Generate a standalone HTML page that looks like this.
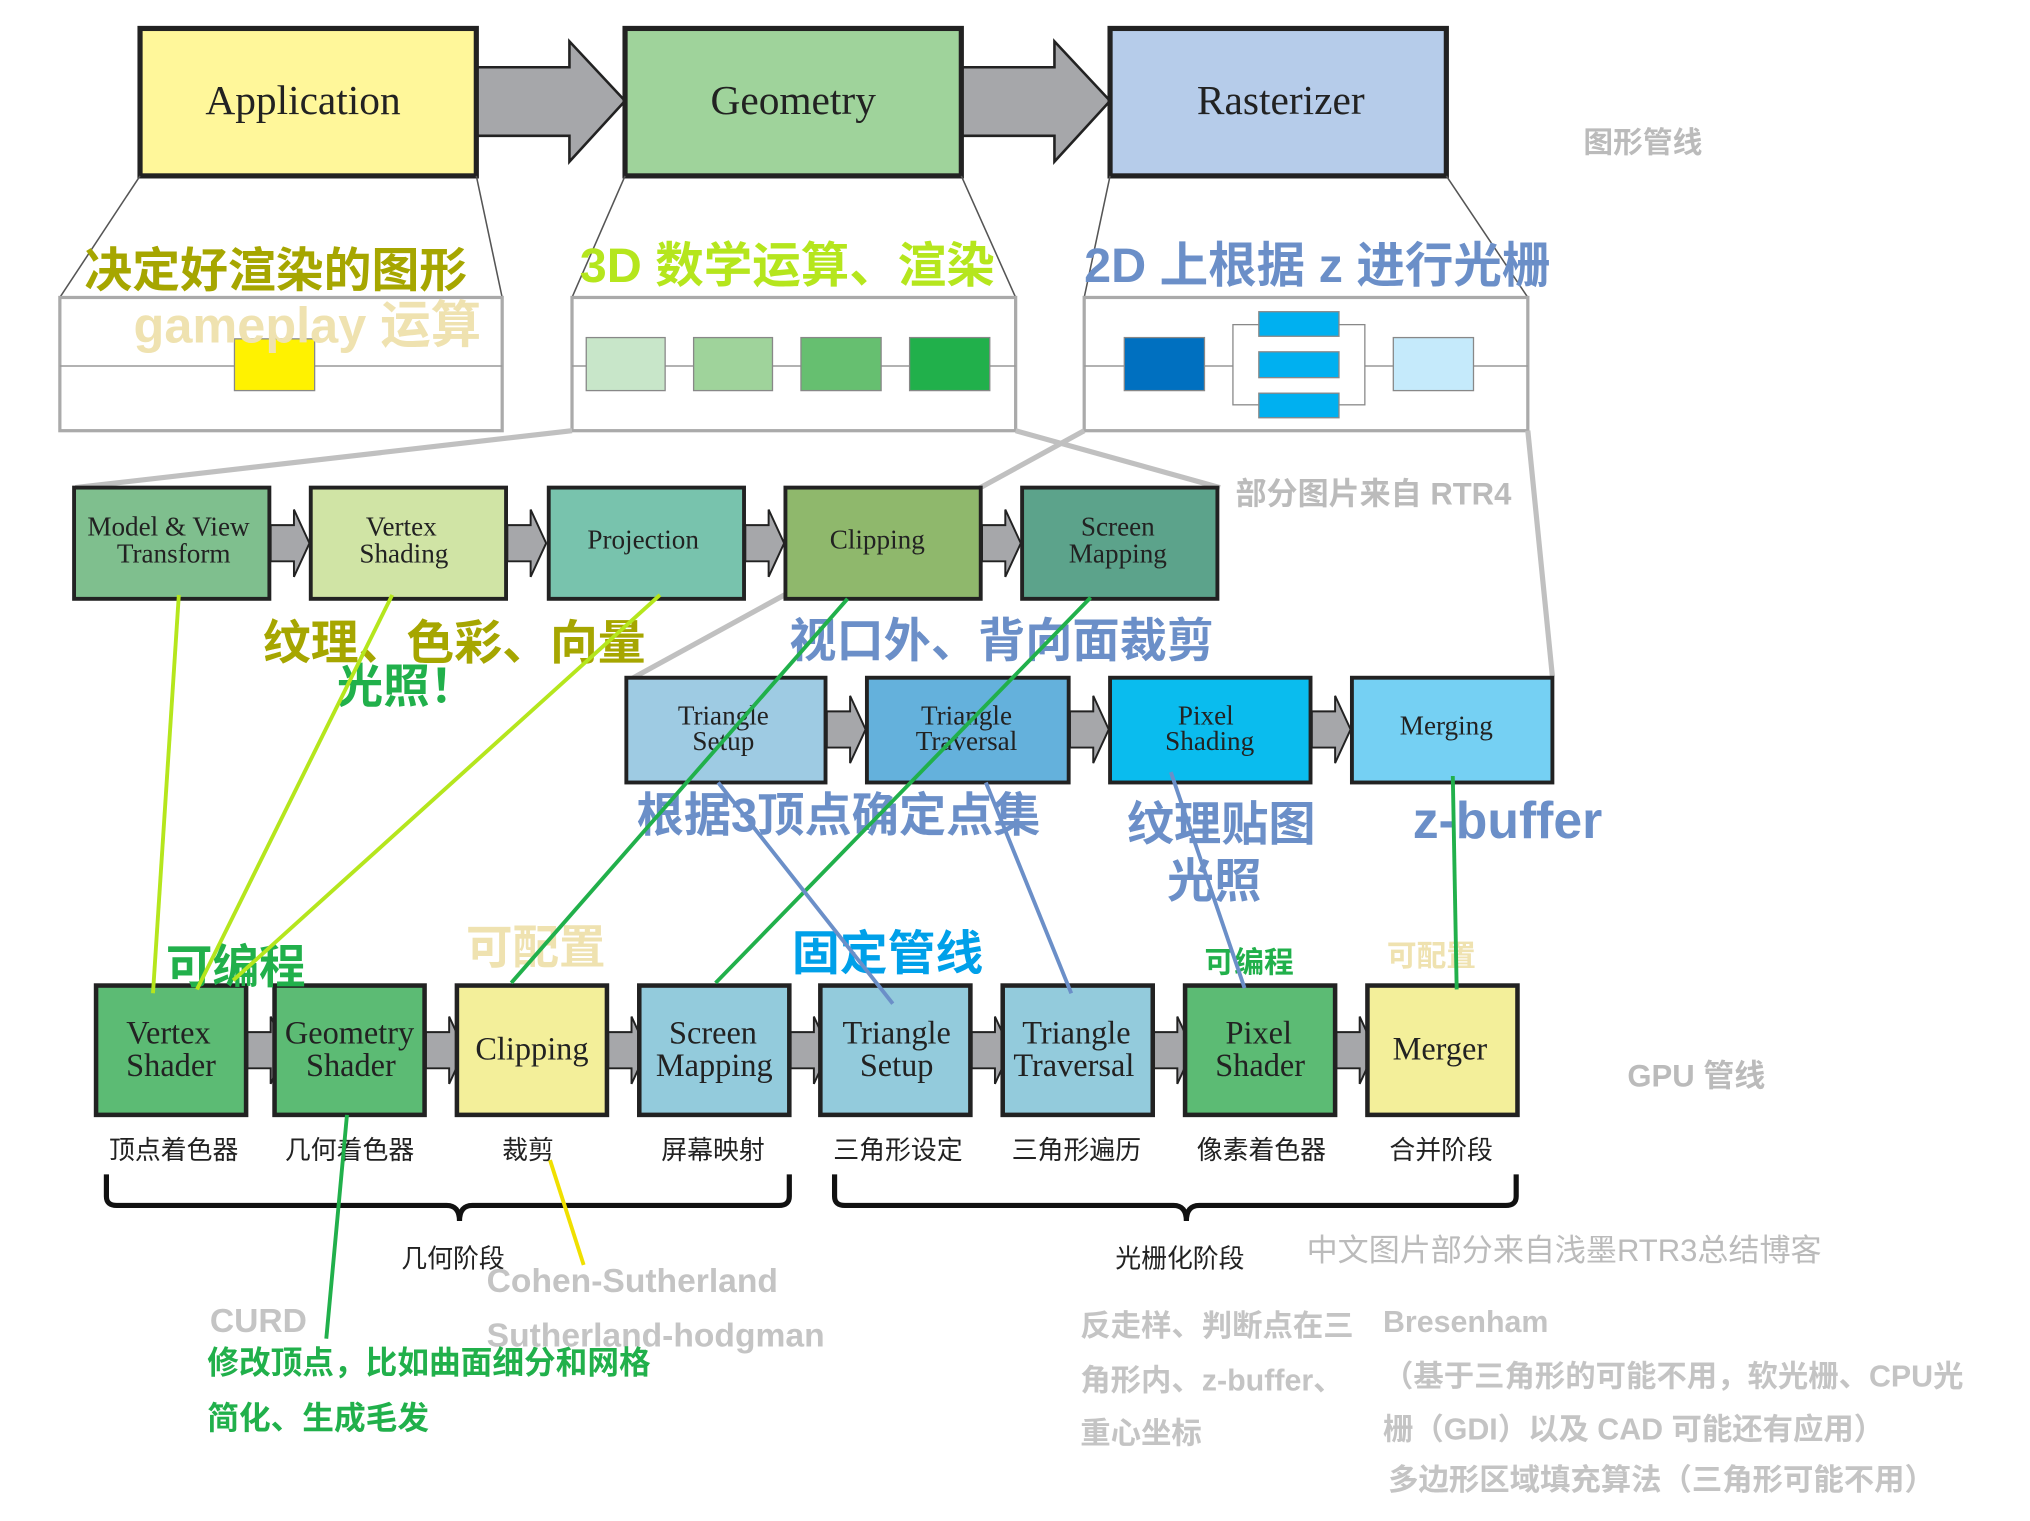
<!DOCTYPE html>
<html><head><meta charset="utf-8"><style>
html,body{margin:0;padding:0;background:#fff;width:2030px;height:1521px;overflow:hidden}
svg{display:block}
.s{font-family:"Liberation Serif","Noto Serif CJK SC",serif;fill:#222}
.c{font-family:"Liberation Sans","Noto Sans CJK SC",sans-serif;font-weight:bold}
.n{font-family:"Liberation Sans","Noto Sans CJK SC",sans-serif}
</style></head><body>
<svg width="2030" height="1521" viewBox="0 0 1569 1176" xmlns="http://www.w3.org/2000/svg">
<defs>
<g id="ba"><polygon points="0,-14 18,-14 18,-26 30,0 18,26 18,14 0,14" fill="#a6a7aa" stroke="#222" stroke-width="1.5"/></g>
</defs>
<polygon points="368,52 440,52 440,32 483,78 440,125 440,105 368,105" fill="#a6a7aa" stroke="#222" stroke-width="2"/>
<polygon points="743,52 815,52 815,32 858,78 815,125 815,105 743,105" fill="#a6a7aa" stroke="#222" stroke-width="2"/>
<rect x="108" y="22" width="260" height="114" fill="#fff79a" stroke="#222" stroke-width="4"/>
<rect x="483" y="22" width="260" height="114" fill="#9fd39b" stroke="#222" stroke-width="4"/>
<rect x="858" y="22" width="260" height="114" fill="#b6ccea" stroke="#222" stroke-width="4"/>
<text x="234" y="88" class="s" font-size="32" text-anchor="middle">Application</text>
<text x="613" y="88" class="s" font-size="32" text-anchor="middle">Geometry</text>
<text x="990" y="88" class="s" font-size="32" text-anchor="middle">Rasterizer</text>
<text x="1224" y="118" class="c" font-size="23" fill="#bbb">图形管线</text>
<g stroke="#555" stroke-width="1.2" fill="none">
<line x1="108" y1="136" x2="46" y2="230"/><line x1="368" y1="136" x2="388" y2="230"/>
<line x1="483" y1="136" x2="442" y2="230"/><line x1="743" y1="136" x2="785" y2="230"/>
<line x1="858" y1="136" x2="838" y2="230"/><line x1="1118" y1="136" x2="1181" y2="230"/>
</g>
<g stroke="#aaa" stroke-width="2.5" fill="#fff">
<rect x="46" y="230" width="342" height="103"/><rect x="442" y="230" width="343" height="103"/><rect x="838" y="230" width="343" height="103"/>
</g>
<g stroke="#999" stroke-width="1.2"><line x1="46" y1="283" x2="388" y2="283"/><line x1="442" y1="283" x2="785" y2="283"/><line x1="838" y1="283" x2="1181" y2="283"/></g>
<rect x="181" y="262" width="62" height="40" fill="#fff200" stroke="#888"/>
<rect x="453" y="261" width="61" height="41" fill="#c8e6c9" stroke="#888"/>
<rect x="536" y="261" width="61" height="41" fill="#9fd39b" stroke="#888"/>
<rect x="619" y="261" width="62" height="41" fill="#66bf70" stroke="#888"/>
<rect x="703" y="261" width="62" height="41" fill="#21b04b" stroke="#888"/>
<rect x="953" y="251" width="102" height="62" fill="#fff" stroke="#888"/>
<rect x="869" y="261" width="62" height="41" fill="#0070c0" stroke="#888"/>
<rect x="973" y="241" width="62" height="19" fill="#00b0f0" stroke="#888"/>
<rect x="973" y="272" width="62" height="20" fill="#00b0f0" stroke="#888"/>
<rect x="973" y="304" width="62" height="19" fill="#00b0f0" stroke="#888"/>
<rect x="1077" y="261" width="62" height="41" fill="#c5eafb" stroke="#888"/>
<text x="65" y="222" class="c" font-size="37" fill="#a6a600">决定好渲染的图形</text>
<text x="103" y="265" class="c" font-size="39" fill="#efe2b0">gameplay 运算</text>
<text x="448" y="218" class="c" font-size="37.5" fill="#b5e61d">3D 数学运算、渲染</text>
<text x="838" y="218" class="c" font-size="37.5" fill="#6b8fc8">2D 上根据 z 进行光栅</text>
<g stroke="#c0c0c0" stroke-width="4"><line x1="442" y1="333" x2="58" y2="377"/><line x1="785" y1="333" x2="943" y2="377"/><line x1="838" y1="333" x2="484" y2="527"/><line x1="1181" y1="333" x2="1200" y2="523"/></g>
<text x="955" y="390" class="c" font-size="24" fill="#bbb">部分图片来自 RTR4</text>
<use href="#ba" x="209" y="420"/><use href="#ba" x="392" y="420"/><use href="#ba" x="576" y="420"/><use href="#ba" x="759" y="420"/>
<g stroke="#222" stroke-width="3">
<rect x="57" y="377" width="151" height="86" fill="#7fbf8e"/>
<rect x="240" y="377" width="151" height="86" fill="#d0e4a5"/>
<rect x="424" y="377" width="151" height="86" fill="#78c3ad"/>
<rect x="607" y="377" width="151" height="86" fill="#8fb86c"/>
<rect x="790" y="377" width="151" height="86" fill="#5ca38b"/>
</g>
<g class="s" font-size="21" text-anchor="middle">
<text x="130" y="414">Model &amp; View</text><text x="134" y="435">Transform</text>
<text x="310" y="414">Vertex</text><text x="312" y="435">Shading</text>
<text x="497" y="424">Projection</text>
<text x="678" y="424">Clipping</text>
<text x="864" y="414">Screen</text><text x="864" y="435">Mapping</text>
</g>
<use href="#ba" x="639" y="564"/><use href="#ba" x="827" y="564"/><use href="#ba" x="1014" y="564"/>
<g stroke="#222" stroke-width="3">
<rect x="484" y="524" width="154" height="81" fill="#9ecbe3"/>
<rect x="670" y="524" width="156" height="81" fill="#64b1dc"/>
<rect x="858" y="524" width="155" height="81" fill="#0abcee"/>
<rect x="1045" y="524" width="155" height="81" fill="#75d0f3"/>
</g>
<g class="s" font-size="21" text-anchor="middle">
<text x="559" y="560">Triangle</text><text x="559" y="580">Setup</text>
<text x="747" y="560">Triangle</text><text x="747" y="580">Traversal</text>
<text x="932" y="560">Pixel</text><text x="935" y="580">Shading</text>
<text x="1118" y="568">Merging</text>
</g>
<text x="203" y="510" class="c" font-size="37" fill="#a6a600">纹理、色彩、向量</text>
<text x="260" y="543" class="c" font-size="36" fill="#21b04b">光照！</text>
<text x="610" y="508" class="c" font-size="36.5" fill="#6b8fc8">视口外、背向面裁剪</text>
<text x="492" y="643" class="c" font-size="36.5" fill="#6b8fc8">根据3顶点确定点集</text>
<text x="871" y="650" class="c" font-size="36.5" fill="#6b8fc8">纹理贴图</text>
<text x="902" y="694" class="c" font-size="36.5" fill="#6b8fc8">光照</text>
<text x="1092" y="648" class="c" font-size="40" fill="#6b8fc8">z-buffer</text>
<use href="#ba" x="191" y="812"/><use href="#ba" x="329" y="812"/><use href="#ba" x="470" y="812"/><use href="#ba" x="611" y="812"/><use href="#ba" x="751" y="812"/><use href="#ba" x="892" y="812"/><use href="#ba" x="1033" y="812"/>
<g stroke="#222" stroke-width="3.5">
<rect x="74" y="762" width="116" height="100" fill="#5cbb74"/>
<rect x="212" y="762" width="116" height="100" fill="#5cbb74"/>
<rect x="353" y="762" width="116" height="100" fill="#f3ef9a"/>
<rect x="494" y="762" width="116" height="100" fill="#93cbdc"/>
<rect x="634" y="762" width="116" height="100" fill="#93cbdc"/>
<rect x="775" y="762" width="116" height="100" fill="#93cbdc"/>
<rect x="916" y="762" width="116" height="100" fill="#5cbb74"/>
<rect x="1057" y="762" width="116" height="100" fill="#f3ef9a"/>
</g>
<g class="s" font-size="25" text-anchor="middle">
<text x="130" y="807">Vertex</text><text x="132" y="832">Shader</text>
<text x="270" y="807">Geometry</text><text x="271" y="832">Shader</text>
<text x="411" y="819">Clipping</text>
<text x="551" y="807">Screen</text><text x="552" y="832">Mapping</text>
<text x="693" y="807">Triangle</text><text x="693" y="832">Setup</text>
<text x="832" y="807">Triangle</text><text x="830" y="832">Traversal</text>
<text x="973" y="807">Pixel</text><text x="974" y="832">Shader</text>
<text x="1113" y="819">Merger</text>
</g>
<g class="n" font-size="20" text-anchor="middle" fill="#222">
<text x="134" y="896">顶点着色器</text><text x="270" y="896">几何着色器</text><text x="408" y="896">裁剪</text><text x="551" y="896">屏幕映射</text><text x="694" y="896">三角形设定</text><text x="832" y="896">三角形遍历</text><text x="975" y="896">像素着色器</text><text x="1114" y="896">合并阶段</text>
</g>
<g fill="none" stroke="#111" stroke-width="4">
<path d="M82,908 V925 Q82,932 90,932 H345 Q355,932 355,944 Q355,932 365,932 H602 Q610,932 610,925 V908"/>
<path d="M645,908 V925 Q645,932 653,932 H907 Q917,932 917,944 Q917,932 927,932 H1164 Q1172,932 1172,925 V908"/>
</g>
<text x="310" y="980" class="n" font-size="20" fill="#222">几何阶段</text>
<text x="862" y="980" class="n" font-size="20" fill="#222">光栅化阶段</text>
<text x="1010" y="975" class="n" font-size="24" fill="#bbb">中文图片部分来自浅墨RTR3总结博客</text>
<text x="128" y="760" class="c" font-size="36" fill="#21b04b">可编程</text>
<text x="360" y="745" class="c" font-size="36" fill="#efe2b0">可配置</text>
<text x="612" y="750" class="c" font-size="37" fill="#00a0e9">固定管线</text>
<text x="931" y="752" class="c" font-size="23" fill="#21b04b">可编程</text>
<text x="1072" y="747" class="c" font-size="23" fill="#efe2b0">可配置</text>
<text x="1258" y="840" class="c" font-size="24" fill="#bbb">GPU 管线</text>
<g stroke="#b5e61d" stroke-width="3"><line x1="138" y1="460" x2="118" y2="768"/><line x1="303" y1="460" x2="152" y2="765"/><line x1="510" y1="460" x2="180" y2="758"/></g>
<g stroke="#21b04b" stroke-width="3"><line x1="655" y1="463" x2="395" y2="760"/><line x1="843" y1="462" x2="553" y2="760"/><line x1="268" y1="862" x2="252" y2="1035"/><line x1="1123" y1="600" x2="1126" y2="765"/></g>
<g stroke="#6b8fc8" stroke-width="3"><line x1="555" y1="605" x2="690" y2="776"/><line x1="762" y1="605" x2="828" y2="768"/><line x1="905" y1="597" x2="962" y2="764"/></g>
<line x1="425" y1="897" x2="451" y2="978" stroke="#f0e000" stroke-width="3"/>
<g class="c" fill="#c4c4c4" font-size="26">
<text x="376" y="999">Cohen-Sutherland</text><text x="376" y="1041">Sutherland-hodgman</text><text x="162" y="1030">CURD</text>
</g>
<text x="160" y="1062" class="c" font-size="24.5" fill="#21b04b">修改顶点，比如曲面细分和网格</text>
<text x="160" y="1105" class="c" font-size="24.5" fill="#21b04b">简化、生成毛发</text>
<g class="c" fill="#c4c4c4" font-size="23.5">
<text x="835" y="1033">反走样、判断点在三</text><text x="835" y="1075">角形内、z-buffer、</text><text x="835" y="1116">重心坐标</text>
<text x="1069" y="1030">Bresenham</text>
<text x="1069" y="1072">（基于三角形的可能不用，软光栅、CPU光</text>
<text x="1069" y="1113">栅（GDI）以及 CAD 可能还有应用）</text>
<text x="1073" y="1152">多边形区域填充算法（三角形可能不用）</text>
</g>
</svg>
</body></html>
